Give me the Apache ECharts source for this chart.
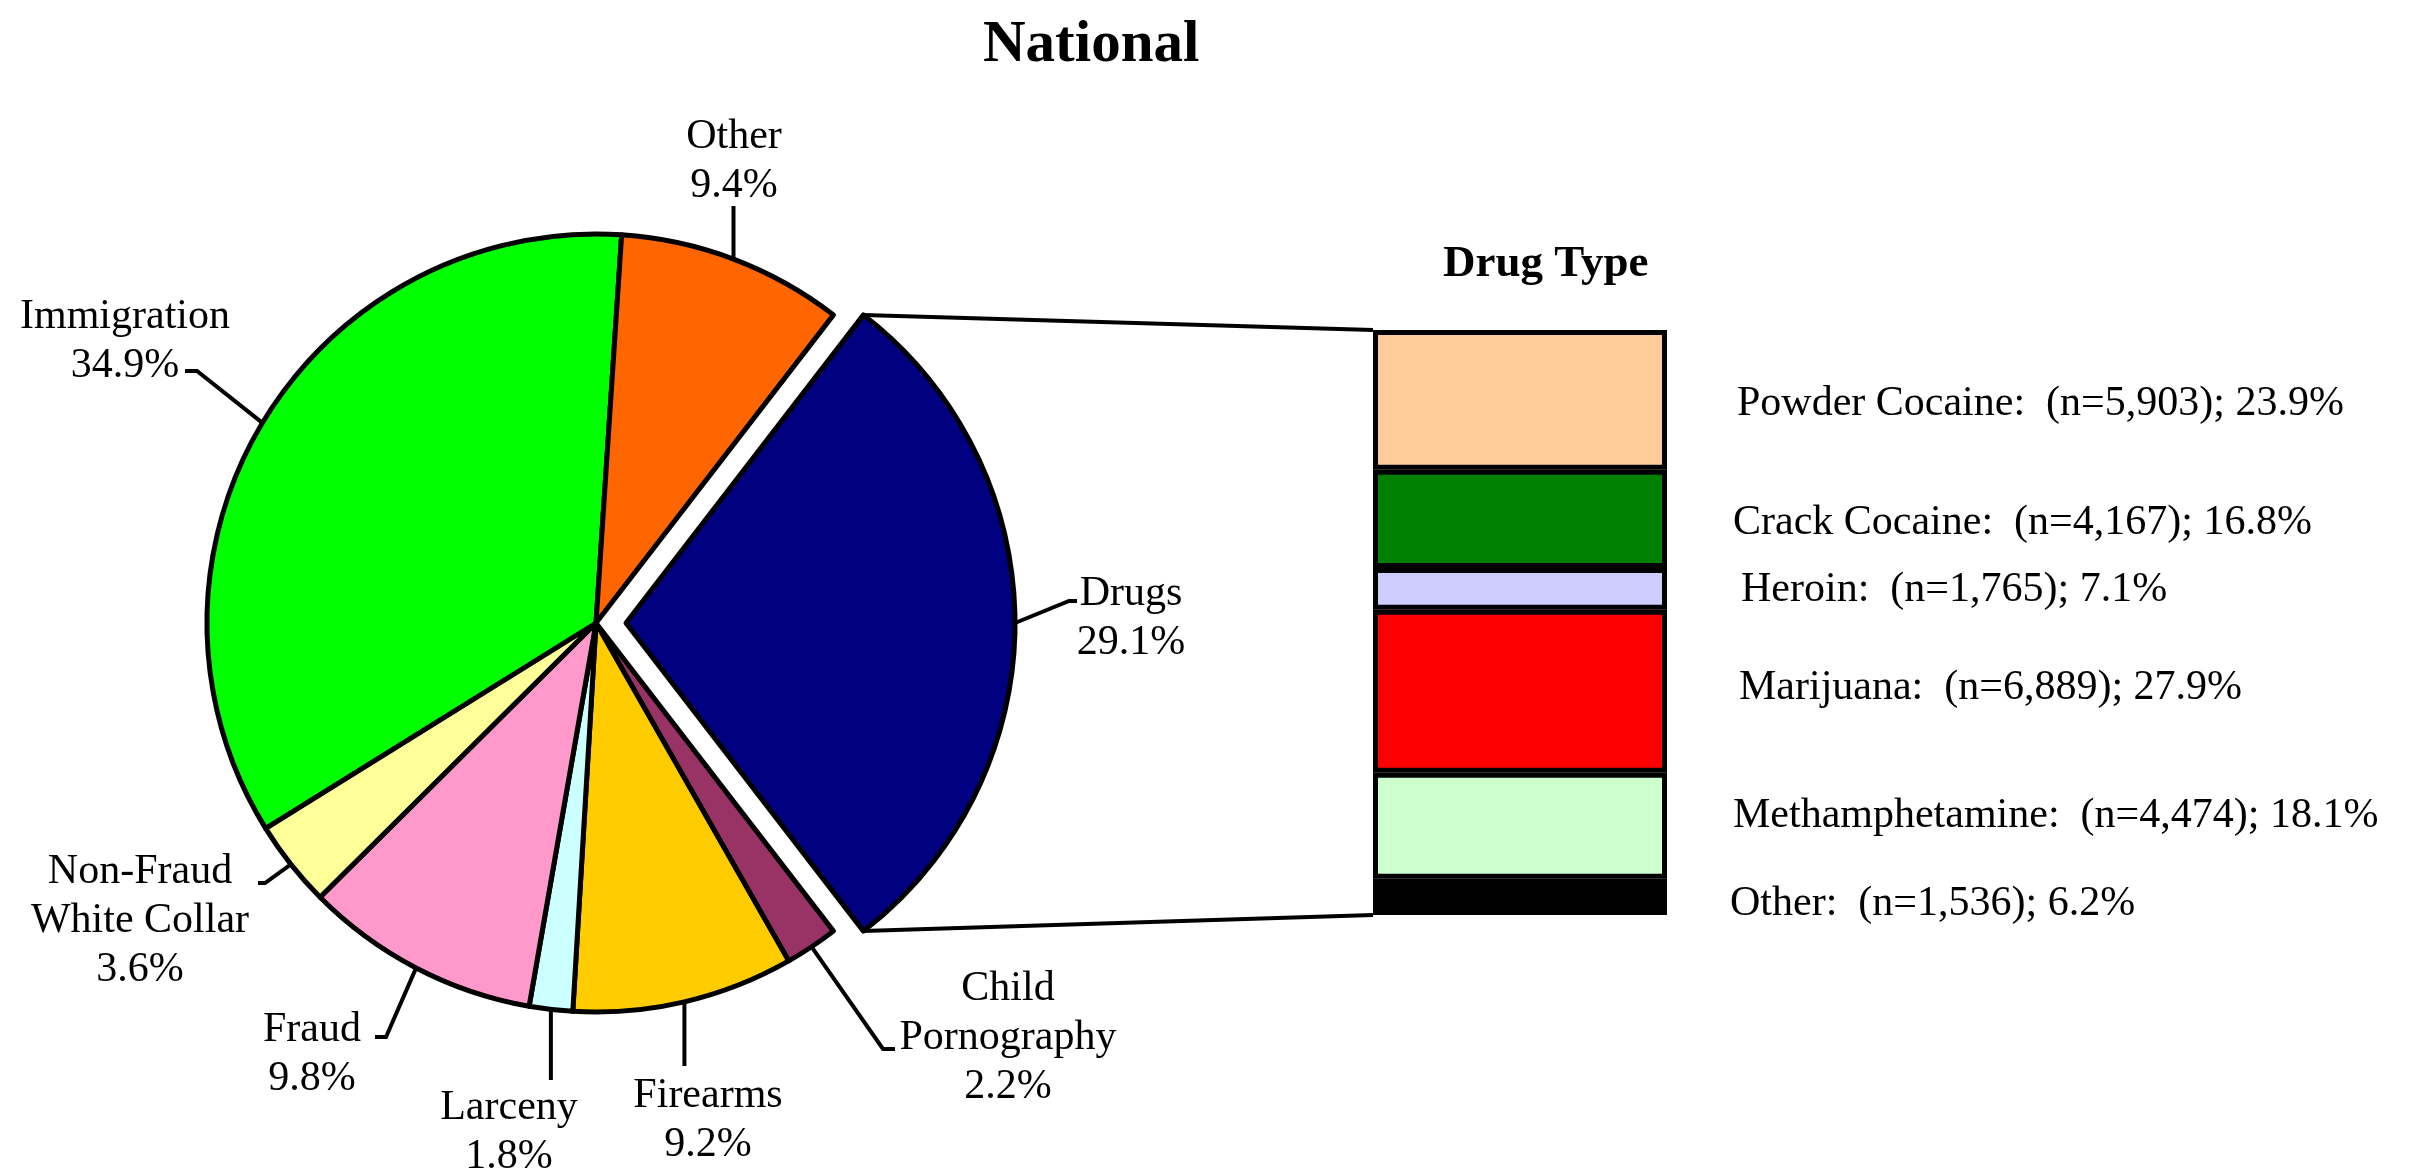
<!DOCTYPE html>
<html>
<head>
<meta charset="utf-8">
<script src="https://cdn.jsdelivr.net/npm/echarts@6/dist/echarts.min.js"></script>
<style>
html,body{margin:0;padding:0;background:#fff;}
#c{width:2420px;height:1175px;}
</style>
</head>
<body>
<div id="c"></div>
<script>
// ---- data ----
var offenseNames = ['Drugs', 'Child\nPornography', 'Firearms', 'Larceny', 'Fraud', 'Non-Fraud\nWhite Collar', 'Immigration', 'Other'];
var offensePct = [29.1, 2.2, 9.2, 1.8, 9.8, 3.6, 34.9, 9.4];
var offenseColors = ['#000080', '#993366', '#FFCC00', '#CCFFFF', '#FF99CC', '#FFFF99', '#00FF00', '#FF6600'];

var drugNames = ['Powder Cocaine', 'Crack Cocaine', 'Heroin', 'Marijuana', 'Methamphetamine', 'Other'];
var drugCounts = [5903, 4167, 1765, 6889, 4474, 1536];
var drugPct = [23.9, 16.8, 7.1, 27.9, 18.1, 6.2];
var drugColors = ['#FFCC99', '#008000', '#CCCCFF', '#FF0000', '#CCFFCC', '#000000'];

// ---- layout (not data) ----
var FONT = 'Liberation Serif';
var pieCX = 596, pieCY = 623, pieR = 389, explode = 30;
var explodedIndex = 0;
// label text centres and leader line bend/end points, per slice
var pieLabelLayout = [
  {x: 1131, y: 618, pts: [[1069, 601], [1077, 601]]},
  {x: 1008, y: 1038, pts: [[883, 1049], [895, 1049]]},
  {x: 708, y: 1120, pts: [[null, 1066]]},
  {x: 509, y: 1132, pts: [[null, 1080]]},
  {x: 312, y: 1054, pts: [[386, 1037], [375, 1037]]},
  {x: 140, y: 921, pts: [[265, 883], [258, 883]]},
  {x: 125, y: 341, pts: [[197, 371], [185, 371]]},
  {x: 734, y: 161, pts: [[null, 206]]}
];
var barLabelOffset = [[2, 4], [-2, 4], [6, 1], [4, -3], [-2, -10], [-5, 7]];

// start angle so that the Drugs slice is centred on the right horizontal
var startAngle = offensePct[0] / 100 * 360 / 2;
var total = offensePct.reduce(function (a, b) { return a + b; }, 0);

function sliceMidRad(i) {
  var before = 0;
  for (var k = 0; k < i; k++) before += offensePct[k];
  return (startAngle - (before + offensePct[i] / 2) / total * 360) * Math.PI / 180;
}
function sliceEdge(i) {
  var a = sliceMidRad(i);
  var cx = pieCX, cy = pieCY;
  if (i === explodedIndex) { cx += explode * Math.cos(a); cy -= explode * Math.sin(a); }
  return [cx + pieR * Math.cos(a), cy - pieR * Math.sin(a)];
}

var HIDDEN = 'rgba(0,0,0,0)';
// main pie: every slice except the exploded one, plus all labels
var pieMain = offenseNames.map(function (n, i) {
  var hid = i === explodedIndex;
  return {
    name: n, value: offensePct[i],
    itemStyle: hid ? {color: HIDDEN, borderWidth: 0} : {color: offenseColors[i]}
  };
});
// exploded pie: only the exploded slice visible
var pieExploded = offenseNames.map(function (n, i) {
  var vis = i === explodedIndex;
  return {
    name: n, value: offensePct[i],
    itemStyle: vis ? {color: offenseColors[i]} : {color: HIDDEN, borderWidth: 0}
  };
});
var expA = sliceMidRad(explodedIndex);

function fmtNum(n) { return n.toString().replace(/\B(?=(\d{3})+(?!\d))/g, ','); }

var barSeries = drugNames.map(function (n, i) {
  return {
    type: 'bar', name: n, stack: 'drug', barWidth: '100%',
    data: [drugPct[i]],
    itemStyle: {color: drugColors[i], borderColor: '#000', borderWidth: 5},
    emphasis: {disabled: true},
    label: {
      show: true, position: 'right', distance: 68,
      offset: barLabelOffset[i],
      fontFamily: FONT, fontSize: 42, color: '#000',
      formatter: function () {
        return n + ':  (n=' + fmtNum(drugCounts[i]) + '); ' + drugPct[i].toFixed(1) + '%';
      }
    }
  };
});

var chart = echarts.init(document.getElementById('c'), null, {renderer: 'canvas'});
var option = {
  animation: false,
  backgroundColor: '#fff',
  title: [
    {text: 'National', left: 983, top: 16, padding: 0,
     textStyle: {fontFamily: FONT, fontSize: 59, fontWeight: 'bold', color: '#000'}},
    {text: 'Drug Type', left: 1443, top: 242, padding: 0,
     textStyle: {fontFamily: FONT, fontSize: 45, fontWeight: 'bold', color: '#000'}}
  ],
  grid: {left: 1373, top: 330, width: 294, height: 585},
  xAxis: {type: 'category', data: ['Drugs'], show: false},
  yAxis: {type: 'value', min: 0, max: 100, inverse: true, show: false},
  series: [{
    type: 'pie',
    center: [pieCX + explode * Math.cos(expA), pieCY - explode * Math.sin(expA)],
    radius: pieR,
    startAngle: startAngle,
    clockwise: true,
    silent: true,
    data: pieExploded,
    emphasis: {disabled: true, scale: false},
    itemStyle: {borderColor: '#000', borderWidth: 5},
    label: {show: false},
    labelLine: {show: false}
  }, {
    type: 'pie',
    center: [pieCX, pieCY],
    radius: pieR,
    startAngle: startAngle,
    clockwise: true,
    silent: true,
    data: pieMain,
    emphasis: {disabled: true, scale: false},
    itemStyle: {borderColor: '#000', borderWidth: 5},
    label: {
      show: true, position: 'outside',
      fontFamily: FONT, fontSize: 42, lineHeight: 49, color: '#000', align: 'center',
      formatter: function (p) { return p.name + '\n' + offensePct[p.dataIndex].toFixed(1) + '%'; }
    },
    labelLine: {show: true, length: 20, length2: 10, lineStyle: {color: '#000', width: 4}},
    labelLayout: function (params) {
      var i = params.dataIndex;
      var L = pieLabelLayout[i];
      var e = sliceEdge(i);
      var pts = [e];
      L.pts.forEach(function (p) { pts.push([p[0] == null ? e[0] : p[0], p[1]]); });
      while (pts.length < 3) pts.push(pts[pts.length - 1].slice());
      return {x: L.x, y: L.y, align: 'center', verticalAlign: 'middle', labelLinePoints: pts};
    }
  }].concat(barSeries)
};
chart.setOption(option);

// connector lines from the exploded Drugs slice to the stacked bar
(function () {
  var rect = chart.getModel().getComponent('grid', 0).coordinateSystem.getRect();
  var half = offensePct[explodedIndex] / total * Math.PI;
  var ecx = pieCX + explode * Math.cos(expA), ecy = pieCY - explode * Math.sin(expA);
  var top = [ecx + pieR * Math.cos(expA + half), ecy - pieR * Math.sin(expA + half)];
  var bot = [ecx + pieR * Math.cos(expA - half), ecy - pieR * Math.sin(expA - half)];
  chart.setOption({
    graphic: [
      {type: 'line', shape: {x1: top[0], y1: top[1], x2: rect.x, y2: rect.y}, style: {stroke: '#000', lineWidth: 4}, silent: true},
      {type: 'line', shape: {x1: bot[0], y1: bot[1], x2: rect.x, y2: rect.y + rect.height}, style: {stroke: '#000', lineWidth: 4}, silent: true}
    ]
  });
})();
</script>
</body>
</html>
